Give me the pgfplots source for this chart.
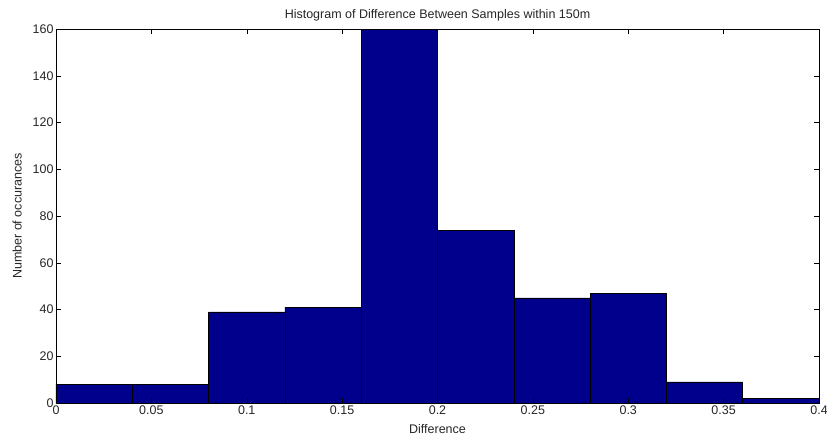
\documentclass[border=0pt]{standalone}
\usepackage{pgfplots}
\pgfplotsset{compat=1.18}
\usepackage{fontspec}
\setmainfont{Liberation Sans}
\definecolor{barblue}{RGB}{0,0,140}
\begin{document}
\begin{tikzpicture}
\begin{axis}[
  name=ax,
  scale only axis,
  width=763pt, height=374pt,
  xmin=0, xmax=0.4, ymin=0, ymax=160,
  xtick={0,0.05,0.1,0.15,0.2,0.25,0.3,0.35,0.4},
  xticklabels={0,0.05,0.1,0.15,0.2,0.25,0.3,0.35,0.4},
  ytick={0,20,40,60,80,100,120,140,160},
  tick align=inside,
  major tick length=5pt,
  tick style={black, line width=0.5pt},
  axis line style={black, line width=0.6pt},
  /pgf/number format/assume math mode=true,
  tick label style={font=\fontsize{12.5}{14}\selectfont, text=black!85},
  xticklabel style={yshift=1pt},
  yticklabel style={xshift=1pt},
  label style={font=\fontsize{12.5}{14}\selectfont, text=black!85},
  title style={font=\fontsize{12.5}{14}\selectfont, text=black!85, yshift=-2pt},
  title={Histogram of Difference Between Samples within 150m},
  xlabel={Difference},
  ylabel={Number of occurances},
  xlabel style={yshift=-3pt},
  ylabel style={yshift=4pt},
  axis on top,
]
\addplot[ybar interval, fill=barblue, draw=black, line width=0.5pt] coordinates {
  (0,8) (0.04,8) (0.08,39) (0.12,41) (0.16,170) (0.2,74) (0.24,45) (0.28,47) (0.32,9) (0.36,2) (0.4,2)
};
\end{axis}
\pgfresetboundingbox
\path ([xshift=-56pt,yshift=-37pt]ax.south west) rectangle ([xshift=8pt,yshift=29pt]ax.north east);
\end{tikzpicture}
\end{document}
